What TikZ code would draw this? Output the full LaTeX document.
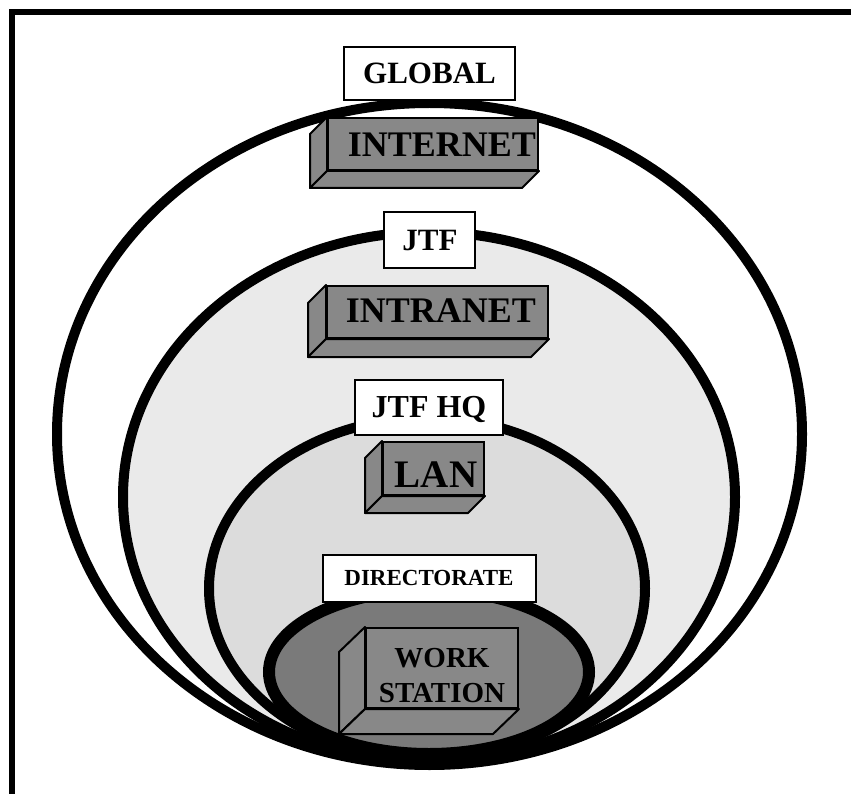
\documentclass[tikz,border=0pt]{standalone}
\usepackage{fontspec}
\setmainfont{Liberation Serif}
\definecolor{boxgray}{HTML}{888888}
\definecolor{dirgray}{HTML}{7A7A7A}
\definecolor{jtfgray}{HTML}{EAEAEA}
\definecolor{hqgray}{HTML}{DCDCDC}
\newcommand{\sz}[1]{\fontsize{#1}{#1}\selectfont\bfseries}
\begin{document}
\begin{tikzpicture}[x=1pt,y=-1pt,
  ring/.style={draw=black,line width=10},
  labelbox/.style={draw=black,fill=white,line width=1.5,inner sep=0},
  front/.style={draw=black,fill=boxgray,line width=2,inner sep=0},
  face/.style={draw=black,fill=boxgray,line width=2,line join=round},
  txt/.style={inner sep=0,anchor=base}]
\useasboundingbox (0,0) rectangle (851,794);
\fill[white] (0,0) rectangle (851,794);
\draw[line width=5.5,line join=miter] (12,794) -- (12,12) -- (851,12);

% nested rings
\draw[ring,fill=white] (429.5,434) ellipse [x radius=372.5, y radius=331];
\draw[ring,fill=jtfgray] (429,497) ellipse [x radius=306, y radius=265];
\draw[ring,fill=hqgray] (427,588.5) ellipse [x radius=218, y radius=170.5];
\draw[ring,line width=12,fill=dirgray] (429,672) ellipse [x radius=160, y radius=82];

% label boxes
\node[labelbox,minimum width=171,minimum height=53] (global) at (429.5,73.5) {};
\node[txt,font=\sz{31}] (globalt) at (429.5,83.8) {GLOBAL};
\node[labelbox,minimum width=91,minimum height=56] (jtf) at (429.5,240) {};
\node[txt,font=\sz{31}] (jtft) at (430,250.3) {JTF};
\node[labelbox,minimum width=148,minimum height=55] (hq) at (429,407.5) {};
\node[txt,font=\sz{32}] (hqt) at (429,417.6) {JTF HQ};
\node[labelbox,minimum width=213,minimum height=47] (dir) at (429.5,578.5) {};
\node[txt,font=\sz{23}] (dirt) at (429,585.6) {DIRECTORATE};

% 3D boxes
\node[front,minimum width=210,minimum height=52] (inet) at (433,144) {};
\draw[face] (inet.north west) -- ++(-17,17) -- ([shift={(-17,17)}]inet.south west) -- (inet.south west) -- cycle;
\draw[face] (inet.south west) -- ++(-17,17) -- ([shift={(-17,17)}]inet.south east) -- (inet.south east) -- cycle;
\node[txt,font=\sz{36}] (inett) at (442,156.9) {INTERNET};

\node[front,minimum width=221,minimum height=52] (intra) at (437.5,312) {};
\draw[face] (intra.north west) -- ++(-18,18) -- ([shift={(-18,18)}]intra.south west) -- (intra.south west) -- cycle;
\draw[face] (intra.south west) -- ++(-18,18) -- ([shift={(-18,18)}]intra.south east) -- (intra.south east) -- cycle;
\node[txt,font=\sz{36}] (intrat) at (441,322.9) {INTRANET};

\node[front,minimum width=101,minimum height=53] (lan) at (433.5,468.5) {};
\draw[face] (lan.north west) -- ++(-17,17) -- ([shift={(-17,17)}]lan.south west) -- (lan.south west) -- cycle;
\draw[face] (lan.south west) -- ++(-17,17) -- ([shift={(-17,17)}]lan.south east) -- (lan.south east) -- cycle;
\node[txt,font=\sz{39}] (lant) at (436,487.9) {LAN};

\node[front,minimum width=152,minimum height=80] (ws) at (442,668) {};
\draw[face] (ws.north west) -- ++(-26,25) -- ([shift={(-26,25)}]ws.south west) -- (ws.south west) -- cycle;
\draw[face] (ws.south west) -- ++(-26,25) -- ([shift={(-26,25)}]ws.south east) -- (ws.south east) -- cycle;
\node[txt,font=\sz{29}] (ws1) at (442,667.6) {WORK};
\node[txt,font=\sz{29}] (ws2) at (442,702.6) {STATION};
\end{tikzpicture}
\end{document}
